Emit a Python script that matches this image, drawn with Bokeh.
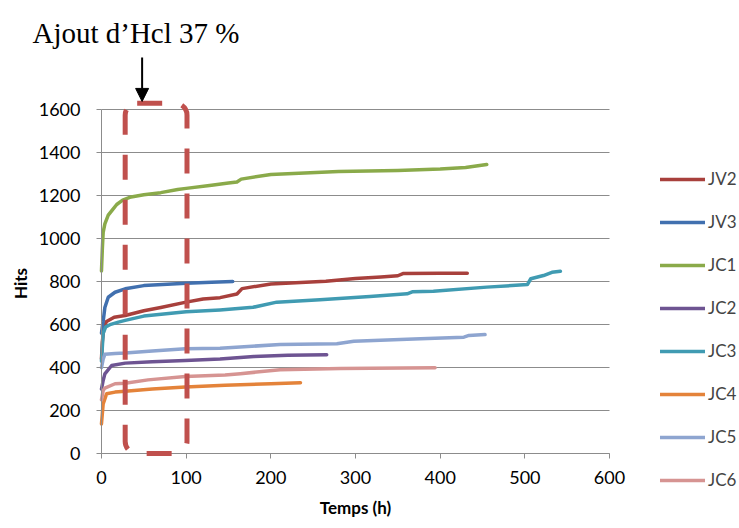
import math
from bokeh.plotting import figure
from bokeh.models import (Range1d, FixedTicker, BoxAnnotation, Arrow, NormalHead,
                          Legend, LegendItem, Label)
from bokeh.embed import file_html
from bokeh.resources import INLINE

# ---- data ----
JV2_t = [0, 1, 3, 6, 15, 28, 50, 70, 100, 120, 140, 160, 166, 200, 265, 300, 330, 350, 356, 400, 432]
JV2_h = [440, 520, 590, 615, 635, 643, 665, 680, 705, 720, 726, 743, 768, 790, 802, 815, 822, 828, 838, 840, 840]

JV3_t = [0, 1, 2, 4, 8, 16, 28, 50, 100, 130, 155]
JV3_h = [560, 590, 615, 680, 728, 751, 767, 782, 793, 798, 801]

JC1_t = [0, 1, 2, 4, 8, 12, 18, 25, 35, 50, 70, 90, 100, 130, 150, 160, 165, 200, 280, 350, 400, 430, 455]
JC1_h = [850, 950, 1030, 1070, 1110, 1130, 1160, 1180, 1195, 1205, 1215, 1230, 1235, 1250, 1260, 1265, 1278, 1300, 1313, 1318, 1325, 1332, 1346]

JC2_t = [0, 2, 4, 12, 28, 60, 99, 140, 180, 220, 266]
JC2_h = [300, 340, 371, 410, 421, 427, 433, 440, 452, 458, 460]

JC3_t = [0, 2, 5, 10, 20, 28, 50, 100, 140, 179, 207, 258, 317, 361, 367, 392, 455, 503, 507, 522, 532, 542]
JC3_h = [430, 560, 590, 600, 612, 620, 640, 660, 669, 681, 705, 716, 731, 744, 753, 756, 775, 787, 814, 829, 844, 849]

JC4_t = [0, 2, 6, 16, 28, 60, 99, 146, 200, 235]
JC4_h = [138, 231, 278, 286, 290, 300, 310, 318, 325, 330]

JC5_t = [0, 2, 4, 16, 28, 60, 99, 140, 211, 278, 298, 353, 377, 428, 434, 453]
JC5_h = [400, 440, 462, 466, 468, 478, 488, 490, 508, 511, 523, 531, 534, 542, 550, 554]

JC6_t = [0, 2, 4, 16, 28, 55, 99, 146, 164, 211, 282, 394]
JC6_h = [250, 293, 305, 325, 327, 343, 359, 366, 372, 390, 396, 400]

series_names = ["JV2", "JV3", "JC1", "JC2", "JC3", "JC4", "JC5", "JC6"]
series_t = [JV2_t, JV3_t, JC1_t, JC2_t, JC3_t, JC4_t, JC5_t, JC6_t]
series_h = [JV2_h, JV3_h, JC1_h, JC2_h, JC3_h, JC4_h, JC5_h, JC6_h]
series_colors = ["#A8403C", "#4170AF", "#8AAA4A", "#6E5492", "#409BB2", "#E4833A", "#8EA5D0", "#D69492"]

x_ticks = [0, 100, 200, 300, 400, 500, 600]
y_ticks = [0, 200, 400, 600, 800, 1000, 1200, 1400, 1600]

title_text = "Ajout d\u2019Hcl 37 %"
x_label = "Temps (h)"
y_label = "Hits"

# annotation: window of acid addition
box_t = [28, 101]
box_h = [0, 1632]
arrow_t = 48
arrow_h = [1844, 1640]

FONT = "Lato"
GRID = "#8C8C8C"

# the frame covers the whole canvas; axes are pinned at 0 so that tick labels,
# titles and the legend all sit inside it
p = figure(width=739, height=526, output_backend="svg", toolbar_location=None,
           x_range=Range1d(-109.8, 753.5), y_range=Range1d(-312, 2110),
           min_border_left=8, min_border_right=0, min_border_top=0, min_border_bottom=6)
p.outline_line_color = None
p.background_fill_color = "white"
p.border_fill_color = "white"

# axes
p.xaxis.ticker = FixedTicker(ticks=x_ticks)
p.yaxis.ticker = FixedTicker(ticks=y_ticks)
p.yaxis.bounds = (y_ticks[0], y_ticks[-1])
p.xaxis.bounds = (x_ticks[0], x_ticks[-1])
p.xaxis.fixed_location = 0
p.yaxis.fixed_location = 0
for ax in (p.xaxis, p.yaxis):
    ax.axis_line_color = GRID
    ax.major_tick_line_color = GRID
    ax.minor_tick_line_color = None
    ax.major_tick_in = 0
    ax.major_tick_out = 5
    ax.major_label_text_font = FONT
    ax.major_label_text_font_size = "18px"
    ax.major_label_text_color = "black"
p.yaxis.major_label_standoff = 16
p.xaxis.major_label_standoff = 12

p.xgrid.grid_line_color = None
grid = p.ygrid[0]
if "cross_bounds" in grid.properties():
    grid.ticker = FixedTicker(ticks=y_ticks)
    grid.cross_bounds = (x_ticks[0], x_ticks[-1])
    grid.grid_line_color = GRID
    grid.grid_line_width = 1
else:
    grid.grid_line_color = None
    p.segment(x0=[x_ticks[0]] * len(y_ticks), x1=[x_ticks[-1]] * len(y_ticks),
              y0=y_ticks, y1=y_ticks, line_color=GRID, line_width=1)

# axis titles
p.add_layout(Label(x=(x_ticks[0] + x_ticks[-1]) / 2, y=-251, text=x_label,
                   text_font=FONT, text_font_style="bold", text_font_size="17px",
                   text_align="center", text_baseline="middle", text_color="black"))
p.add_layout(Label(x=-95.7, y=(y_ticks[0] + y_ticks[-1]) / 2 - 8, text=y_label, angle=math.pi / 2,
                   text_font=FONT, text_font_style="bold", text_font_size="17px",
                   text_align="center", text_baseline="middle", text_color="black"))

# chart title
p.add_layout(Label(x=-81.5, y=1958, text=title_text, text_font="Liberation Serif",
                   text_font_size="29px", text_color="black", text_baseline="alphabetic"))

# series
items = []
for name, t, h, c in zip(series_names, series_t, series_h, series_colors):
    r = p.line(t, h, line_color=c, line_width=3.5, line_join="round", line_cap="round")
    items.append(LegendItem(label=name, renderers=[r]))

legend = Legend(items=items, location=(652, 30), orientation="vertical",
                label_text_font=FONT, label_text_font_size="17px",
                glyph_width=45, glyph_height=20, label_height=20, spacing=22,
                label_standoff=3, padding=0, margin=0,
                border_line_color=None, background_fill_alpha=0)
p.add_layout(legend, "center")

# dashed window
box = BoxAnnotation(left=box_t[0], right=box_t[1], bottom=box_h[0], top=box_h[1],
                    fill_alpha=0, line_color="#C0504D", line_alpha=1.0, line_width=5,
                    line_dash="25 20", border_radius=12)
p.add_layout(box)

# arrow
p.add_layout(Arrow(x_start=arrow_t, y_start=arrow_h[0], x_end=arrow_t, y_end=arrow_h[1],
                   line_color="black", line_width=2,
                   end=NormalHead(size=13, fill_color="black", line_color="black")))

open("out.html", "w").write(file_html(p, INLINE))
